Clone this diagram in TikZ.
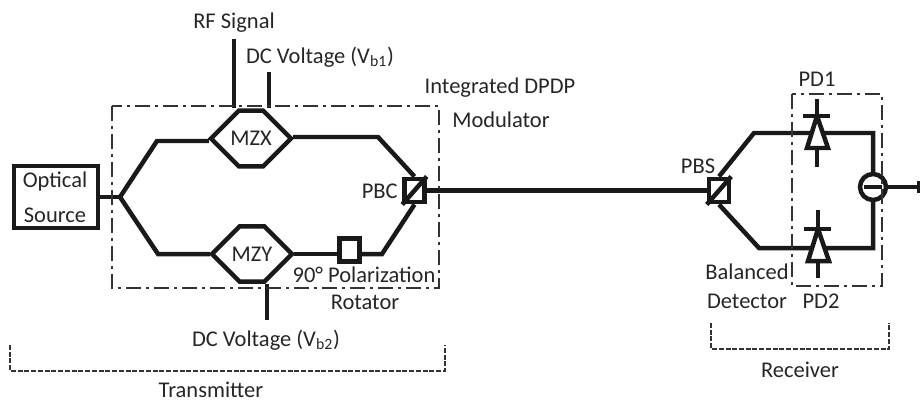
\documentclass[tikz,border=0pt]{standalone}
\usepackage{fontspec}
\setmainfont{Carlito}
\usetikzlibrary{shapes.misc,calc}
\tikzset{
    wire/.style={line width=0.09cm, black!90},
    frame/.style={line width=0.03cm, black!80, dash pattern=on 0.3cm off 0.1cm on 0.06cm off 0.1cm},
    brace/.style={line width=0.03cm, black!80, dash pattern=on 0.1cm off 0.035cm},
    label/.style={font=\fontsize{12.8pt}{14pt}\selectfont, text=black!85, inner sep=0pt},
    hexbox/.style={draw, wire, fill=white, chamfered rectangle, chamfered rectangle xsep=0.32cm, chamfered rectangle ysep=0.43cm, minimum width=1.6cm, minimum height=0.86cm, inner sep=0pt, label},
    cube/.style={draw, wire, fill=white, minimum width=0.4cm, minimum height=0.47cm, inner sep=0pt},
}
\begin{document}
\begin{tikzpicture}[x=0.02cm,y=-0.02cm]
    \useasboundingbox (0,0) rectangle (920,402);

    \node[draw, wire, minimum width=1.68cm, minimum height=1.24cm, inner sep=0pt] (source) at (56,197) {};
    \node[label] (opticaltext) at (55,182) {Optical};
    \node[label] (sourcetext) at (55,215) {Source};

    \coordinate (split) at (120,197);
    \coordinate (up) at (157,141);
    \coordinate (down) at (158,254);
    \coordinate (upout) at (378,137);
    \coordinate (downout) at (382,254);

    \node[hexbox] (mzx) at (251,138.5) {MZX};
    \node[hexbox] (mzy) at (252,254) {MZY};
    \node[cube] (pbc) at (414.5,190.5) {};
    \node[cube, minimum height=0.46cm] (rotator) at (349.5,250) {};
    \node[cube] (pbs) at (719,190.5) {};
    \node[circle, draw, wire, fill=white, minimum size=0.52cm, inner sep=0pt] (minus) at (873,187) {};

    \draw[wire] (source.east |- split) -- (split);
    \draw[wire] (up -| mzx.west) -- (up) -- (split) -- (down) -- (down -| mzy.west);
    \draw[wire] (upout -| mzx.east) -- (upout) -- (pbc.north);
    \draw[wire] (mzy.east) -- (rotator.west |- mzy.east);
    \draw[wire] (rotator.east |- mzy.east) -- (downout) -- (pbc.south);
    \draw[wire] (pbc.east) -- (pbs.west);
    \draw[wire] (pbc.south west) -- (pbc.north east);
    \draw[wire] (pbs.south west) -- (pbs.north east);

    \coordinate (rfend) at (234,39);
    \coordinate (dc1end) at (269,72);
    \coordinate (dc2end) at (267,320);
    \draw[wire] (rfend) -- (rfend |- mzx.north);
    \draw[wire] (dc1end) -- (dc1end |- mzx.north);
    \draw[wire] (dc2end) -- (dc2end |- mzy.south);

    \coordinate (pbsup) at (754,133);
    \coordinate (pbsdown) at (759,248);
    \coordinate (rxup) at (873,133);
    \coordinate (rxdown) at (873,248);
    \coordinate (out) at (920,187);
    \draw[wire] (pbs.north) -- (pbsup) -- (rxup) -- (minus.north);
    \draw[wire] (pbs.south) -- (pbsdown) -- (rxdown) -- (minus.south);
    \draw[wire] (minus.east) -- (out);
    \fill[black!90] (920,181) -- (917,181) -- (917,193) -- (920,193) -- cycle;% tip
    \draw[line width=0.07cm, black!90] ($(minus.center)+(-9,0)$) -- ($(minus.center)+(9,0)$);

    % diodes
    \foreach \n/\x/\y/\a/\b in {pd1/817/116/99/167, pd2/818/229/210/278}{
        \coordinate (\n) at (\x,\y);
        \draw[wire] (\x,\a) -- (\x,\b);
        \draw[wire] (\x-14,\y) -- (\x+13,\y);
        \draw[wire, fill=white] (\n) -- (\x+11,\y+32) -- (\x-10,\y+32) -- cycle;
    }

    % boxes
    \coordinate (modnw) at (112,106);
    \coordinate (modse) at (439,288);
    \coordinate (pdnw) at (792,94);
    \coordinate (pdse) at (882,286);
    \draw[frame] (modnw) rectangle (modse);
    \draw[frame] (pdnw) rectangle (pdse);

    \coordinate (txa) at (10,345);
    \coordinate (txb) at (10,371);
    \coordinate (txc) at (445,371);
    \coordinate (txd) at (445,345);
    \draw[brace] (txa) -- (txb) -- (txc) -- (txd);
    \coordinate (rxa) at (711,323);
    \coordinate (rxb) at (711,349);
    \coordinate (rxc) at (889,349);
    \coordinate (rxd) at (889,323);
    \draw[brace] (rxa) -- (rxb) -- (rxc) -- (rxd);

    % labels
    \node[label] (rf) at (234,23) {RF Signal};
    \node[label] (dc1) at (320,57) {DC Voltage (V\textsubscript{b1})};
    \node[label] (integrated) at (500,88) {Integrated DPDP};
    \node[label] (modulator) at (501,120) {Modulator};
    \node[label, anchor=east] (pbclabel) at (398,191) {PBC};
    \node[label] (polar) at (364,275) {90° Polarization};
    \node[label] (rot) at (365,302) {Rotator};
    \node[label] (dc2) at (266,340) {DC Voltage (V\textsubscript{b2})};
    \node[label] (tx) at (211,390) {Transmitter};
    \node[label] (pd1label) at (817,79) {PD1};
    \node[label] (pbslabel) at (698,166) {PBS};
    \node[label] (balanced) at (747,272) {Balanced};
    \node[label] (detector) at (747,301) {Detector};
    \node[label] (pd2label) at (821,301) {PD2};
    \node[label] (rx) at (800,370) {Receiver};
\end{tikzpicture}
\end{document}
